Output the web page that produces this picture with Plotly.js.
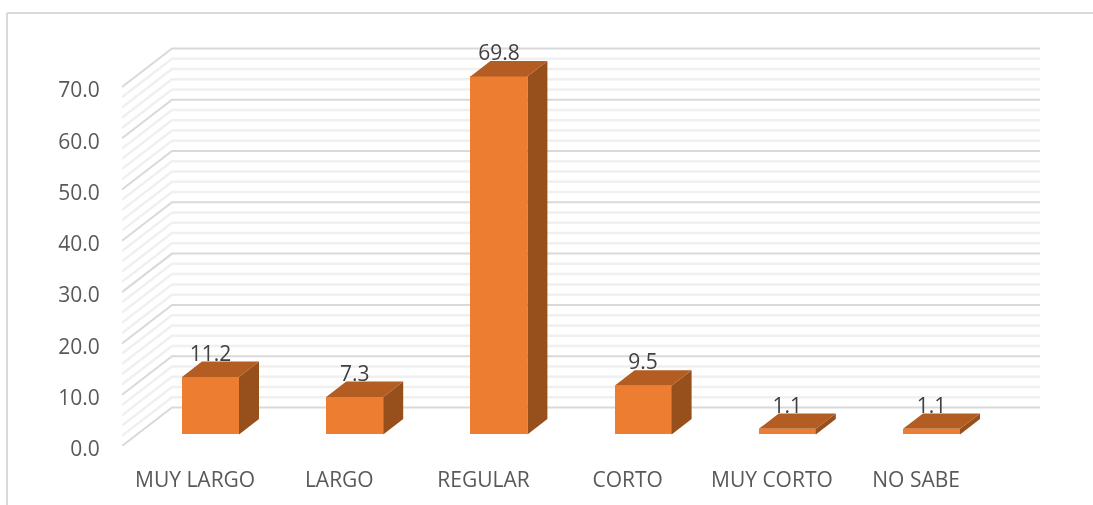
<!DOCTYPE html>
<html>
<head>
<meta charset="utf-8">
<script src="https://cdn.plot.ly/plotly-3.0.1.min.js"></script>
<style>html,body{margin:0;padding:0;background:#fff;overflow:hidden}#chart{filter:blur(0.4px)}</style>
</head>
<body>
<div id="chart" style="width:1093px;height:505px"></div>
<script>
const categories = ["MUY LARGO","LARGO","REGULAR","CORTO","MUY CORTO","NO SABE"];
const values = [11.2,7.3,69.8,9.5,1.1,1.1];
const valueLabels = ["11.2","7.3","69.8","9.5","1.1","1.1"];
const majorTicks = [0,10,20,30,40,50,60,70];
const minorTicks = [2,4,6,8,12,14,16,18,22,24,26,28,32,34,36,38,42,44,46,48,52,54,56,58,62,64,66,68];

const W=1093,H=505,L=122,R=1040,T=47,B=446;
const catPx=144.2, valPx=5.13;
const depthX=50/catPx, depthY=38.5/valPx;   // oblique projection of the chart's depth
const nearX=0.328, nearD=0.3, farD=0.7, barW=57/catPx;
const FONT='"Open Sans", sans-serif', TXT='#595959';
const centers=categories.map((_,i)=>i+0.5);
const frontX=centers.map(c=>c+nearX*depthX);
const baseY=nearD*depthY;
const xMax=(R-L)/catPx;

function gridShapes(list,color,w){
  return list.map(v=>({type:'path',layer:'below',xref:'x',yref:'y',
    path:`M0,${v} L${depthX},${v+depthY} L${xMax},${v+depthY}`,
    line:{color:color,width:w}}));
}
function frame(){
  const px=x=>(x-L)/(R-L), py=y=>(B-y)/(B-T);
  return [
   {type:'line',xref:'paper',yref:'paper',x0:px(7),x1:px(1093),y0:py(13),y1:py(13),line:{color:'#d9d9d9',width:2}},
   {type:'line',xref:'paper',yref:'paper',x0:px(7),x1:px(7),y0:py(13),y1:py(505),line:{color:'#d9d9d9',width:2}}
  ];
}
const ddx=(farD-nearD)*depthX, ddy=(farD-nearD)*depthY;
function poly(fn,color){
  const xs=[],ys=[];
  values.forEach((v,i)=>{const p=fn(frontX[i],v);p.forEach(q=>{xs.push(q[0]);ys.push(q[1]);});xs.push(null);ys.push(null);});
  return {type:'scatter',mode:'lines',x:xs,y:ys,fill:'toself',fillcolor:color,line:{width:0,color:color},hoverinfo:'skip',showlegend:false};
}
const side=poly((x,v)=>{const r=x+barW/2;return [[r,baseY],[r+ddx,baseY+ddy],[r+ddx,baseY+ddy+v],[r,baseY+v],[r,baseY]];},'#974f1c');
const top3d=poly((x,v)=>{const l=x-barW/2,r=x+barW/2,t=baseY+v;return [[l,t],[r,t],[r+ddx,t+ddy],[l+ddx,t+ddy],[l,t]];},'#b35d22');
const front={type:'bar',x:frontX,y:values,base:values.map(()=>baseY),width:barW,
  marker:{color:'#ed7d31',line:{width:0}},hoverinfo:'skip',showlegend:false};
const labels={type:'scatter',mode:'text',x:frontX,y:values.map(v=>v+baseY+21.5/valPx),text:valueLabels,
  textposition:'middle center',textfont:{family:FONT,size:21,color:'#404040'},cliponaxis:false,hoverinfo:'skip',showlegend:false};

Plotly.newPlot('chart',[front,side,top3d,labels],{
  width:W,height:H,
  margin:{l:L,r:W-R,t:T,b:H-B,pad:0},
  paper_bgcolor:'#fff',plot_bgcolor:'rgba(0,0,0,0)',showlegend:false,
  bargap:0,
  xaxis:{range:[0,xMax],tickvals:centers,ticktext:categories,showgrid:false,zeroline:false,showline:false,
    ticks:'outside',ticklen:15,ticklabelshift:1,tickcolor:'rgba(0,0,0,0)',tickfont:{family:FONT,size:21,color:TXT},fixedrange:true},
  yaxis:{range:[0,(B-T)/valPx],tickvals:majorTicks,tickformat:'.1f',showgrid:false,zeroline:false,showline:false,
    ticks:'outside',ticklen:17,tickcolor:'rgba(0,0,0,0)',ticklabelshift:3,tickfont:{family:FONT,size:21,color:TXT},fixedrange:true},
  shapes:[...frame(),...gridShapes(minorTicks,'#f0f0f0',2.5),...gridShapes(majorTicks,'#d9d9d9',2)]
},{displayModeBar:false,staticPlot:true});
</script>
</body>
</html>
